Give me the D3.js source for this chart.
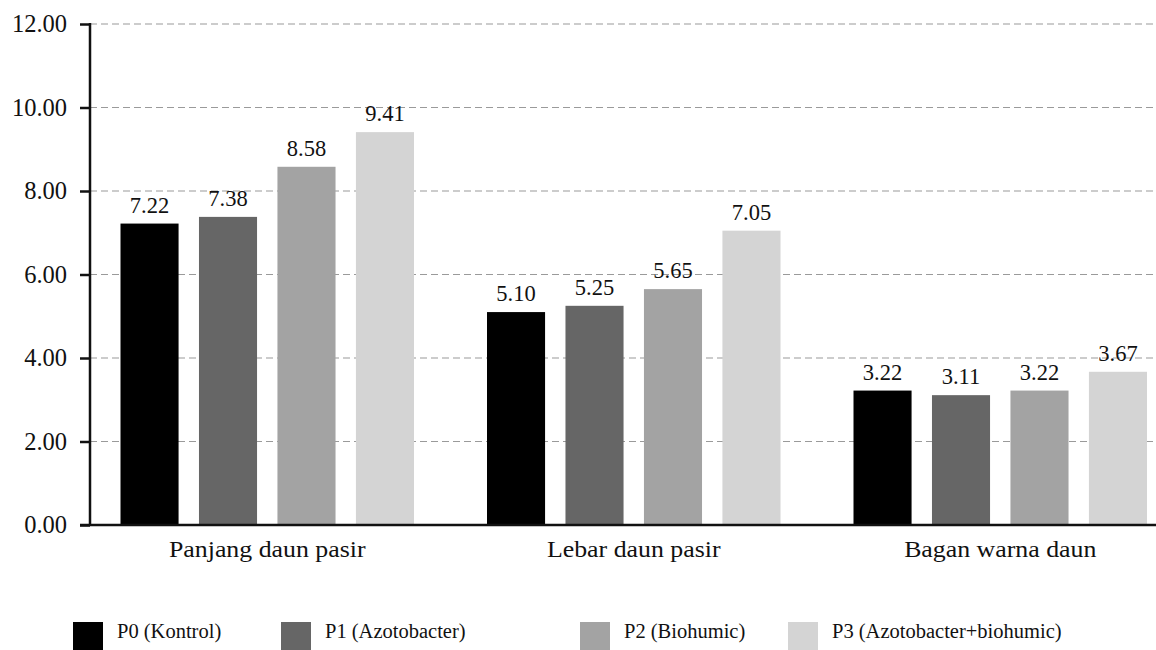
<!DOCTYPE html>
<html>
<head>
<meta charset="utf-8">
<script src="https://cdn.jsdelivr.net/npm/d3@7"></script>
<style>
  html, body { margin: 0; padding: 0; background: #fff; }
  svg { display: block; }
  svg text { font-family: "Liberation Serif", "Times New Roman", Tinos, "DejaVu Serif", serif; fill: #111; }
</style>
</head>
<body>
<svg id="chart" width="1156" height="650"></svg>
<script>
// Leaf measurements per treatment
const categories = ["Panjang daun pasir", "Lebar daun pasir", "Bagan warna daun"];
const seriesNames = ["P0 (Kontrol)", "P1 (Azotobacter)", "P2 (Biohumic)", "P3 (Azotobacter+biohumic)"];
const p0 = [7.22, 5.10, 3.22];
const p1 = [7.38, 5.25, 3.11];
const p2 = [8.58, 5.65, 3.22];
const p3 = [9.41, 7.05, 3.67];
const yTicks = [0, 2, 4, 6, 8, 10, 12];
const colors = ["#000000", "#666666", "#a3a3a3", "#d4d4d4"];

const seriesValues = [p0, p1, p2, p3];

const svg = d3.select("#chart");
const axisX = 90, baseY = 525, topY = 24;

const y = d3.scaleLinear().domain([0, 12]).range([baseY, topY]);
const x0 = d3.scaleBand().domain(categories).range([84, 1183.5]).padding(0);
const x1 = d3.scaleBand().domain(seriesNames)
  .range([36.5, x0.bandwidth() - 36.5]).paddingInner(0.26).paddingOuter(0);

// dashed gridlines
svg.append("g").selectAll("line")
  .data(yTicks.filter(d => d > 0))
  .join("line")
  .attr("x1", axisX).attr("x2", 1156)
  .attr("y1", d => y(d)).attr("y2", d => y(d))
  .attr("stroke", "#9a9a9a").attr("stroke-width", 1.2)
  .attr("stroke-dasharray", "7,4");

// bars
const groups = svg.append("g").selectAll("g")
  .data(categories)
  .join("g")
  .attr("transform", d => `translate(${x0(d)},0)`);

groups.selectAll("rect")
  .data((c, ci) => seriesNames.map((s, si) => ({ s, si, v: seriesValues[si][ci] })))
  .join("rect")
  .attr("x", d => x1(d.s))
  .attr("width", x1.bandwidth())
  .attr("y", d => y(d.v))
  .attr("height", d => baseY - y(d.v))
  .attr("fill", d => colors[d.si]);

groups.selectAll("text")
  .data((c, ci) => seriesNames.map((s, si) => ({ s, si, v: seriesValues[si][ci] })))
  .join("text")
  .attr("x", d => x1(d.s) + x1.bandwidth() / 2)
  .attr("y", d => y(d.v) - 11)
  .attr("text-anchor", "middle")
  .style("font-size", "22.5px")
  .text(d => d.v.toFixed(2));

// y axis
const yAxis = d3.axisLeft(y).tickValues(yTicks).tickSize(10).tickPadding(13)
  .tickFormat(d => d.toFixed(2));
const ya = svg.append("g").attr("transform", `translate(${axisX},0)`).call(yAxis);
ya.attr("font-family", null);
ya.select(".domain").remove();
ya.selectAll(".tick line").attr("stroke", "#111").attr("stroke-width", 2.5);
ya.selectAll(".tick text").style("font-size", "24.5px").attr("fill", "#111");
svg.append("line").attr("x1", axisX).attr("x2", axisX)
  .attr("y1", topY - 1).attr("y2", baseY).attr("stroke", "#111").attr("stroke-width", 2.5);

// x axis
const xAxis = d3.axisBottom(x0).tickSize(0).tickPadding(15);
const xa = svg.append("g").attr("transform", `translate(0,${baseY})`).call(xAxis);
xa.attr("font-family", null);
xa.select(".domain").remove();
xa.selectAll(".tick text").style("font-size", "23.5px").attr("fill", "#111")
  .attr("transform", "scale(1.1,1)");
svg.append("line").attr("x1", 80).attr("x2", 1156)
  .attr("y1", baseY).attr("y2", baseY).attr("stroke", "#111").attr("stroke-width", 2.5);

// legend
const legendX = [73, 281, 580, 788];
const legend = svg.append("g").selectAll("g")
  .data(seriesNames)
  .join("g")
  .attr("transform", (d, i) => `translate(${legendX[i]},622)`);
legend.append("rect").attr("width", 30).attr("height", 30)
  .attr("fill", (d, i) => colors[i]);
legend.append("text").attr("x", 44).attr("y", 16)
  .style("font-size", "20.5px").text(d => d);
</script>
</body>
</html>
